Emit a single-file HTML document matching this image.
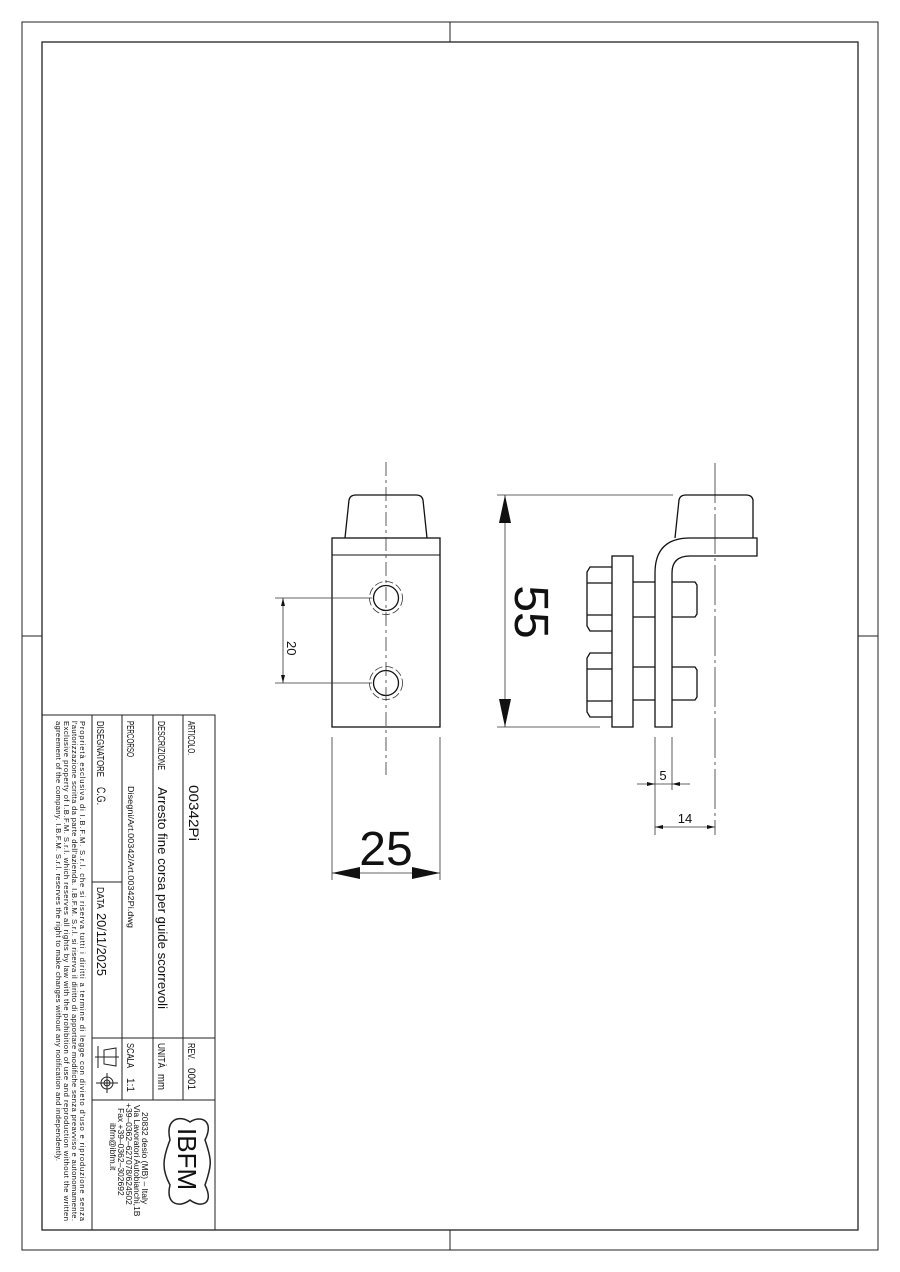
<!DOCTYPE html>
<html><head><meta charset="utf-8"><style>html,body{margin:0;padding:0;background:#fff}svg{display:block}text{font-family:"Liberation Sans",sans-serif;fill:#111}</style></head><body>
<svg width="900" height="1272" viewBox="0 0 900 1272" xmlns="http://www.w3.org/2000/svg">
<g fill="none" stroke="#222" stroke-width="1">
<rect x="22" y="22" width="856" height="1228"/>
<rect x="42" y="42" width="816" height="1188" stroke-width="1.3"/>
<line x1="450" y1="22" x2="450" y2="42"/><line x1="450" y1="1230" x2="450" y2="1250"/>
<line x1="22" y1="636" x2="42" y2="636"/><line x1="858" y1="636" x2="878" y2="636"/>
<rect x="42" y="715" width="173" height="515"/>
<line x1="92" y1="715" x2="92" y2="1230"/>
<line x1="122" y1="715" x2="122" y2="1100"/>
<line x1="153" y1="715" x2="153" y2="1100"/>
<line x1="183" y1="715" x2="183" y2="1100"/>
<line x1="92" y1="882" x2="122" y2="882"/>
<line x1="92" y1="1038" x2="215" y2="1038"/>
<line x1="92" y1="1100" x2="215" y2="1100"/>
<path d="M98 1046 L98 1068 M104 1050 L104 1064 L116 1066 L116 1048 Z M95 1057 L119 1057"/>
<circle cx="107" cy="1083" r="6"/><circle cx="107" cy="1083" r="3"/>
<line x1="96" y1="1083" x2="118" y2="1083"/><line x1="107" y1="1073" x2="107" y2="1093"/>
<path d="M205 1140 C215 1120 200 1115 190 1122 C180 1115 165 1118 170 1140 C162 1160 162 1170 170 1185 C165 1205 180 1208 190 1200 C200 1208 215 1205 205 1185 C212 1165 212 1160 205 1140 Z" stroke-width="1.5"/>
</g>
<g font-size="11">
<text transform="translate(188,721) rotate(90)" font-size="10" textLength="34" lengthAdjust="spacingAndGlyphs">ARTICOLO.</text>
<text transform="translate(189,785) rotate(90)" font-size="14" textLength="56" lengthAdjust="spacingAndGlyphs">00342Pi</text>
<text transform="translate(158,721) rotate(90)" font-size="10" textLength="49" lengthAdjust="spacingAndGlyphs">DESCRIZIONE</text>
<text transform="translate(158,787) rotate(90)" font-size="13" textLength="222" lengthAdjust="spacingAndGlyphs">Arresto fine corsa per guide scorrevoli</text>
<text transform="translate(127,721) rotate(90)" font-size="10" textLength="36" lengthAdjust="spacingAndGlyphs">PERCORSO</text>
<text transform="translate(128,786) rotate(90)" font-size="8" textLength="142" lengthAdjust="spacingAndGlyphs">Disegni/Art.00342/Art.00342Pi.dwg</text>
<text transform="translate(97,721) rotate(90)" font-size="10" textLength="56" lengthAdjust="spacingAndGlyphs">DISEGNATORE</text>
<text transform="translate(97,787) rotate(90)" font-size="12" textLength="18" lengthAdjust="spacingAndGlyphs">C.G.</text>
<text transform="translate(97,887) rotate(90)" font-size="10" textLength="22" lengthAdjust="spacingAndGlyphs">DATA</text>
<text transform="translate(97,913) rotate(90)" font-size="13" textLength="63" lengthAdjust="spacingAndGlyphs">20/11/2025</text>
<text transform="translate(188,1043) rotate(90)" font-size="10" textLength="17" lengthAdjust="spacingAndGlyphs">REV.</text>
<text transform="translate(188,1068) rotate(90)" font-size="11" textLength="22" lengthAdjust="spacingAndGlyphs">0001</text>
<text transform="translate(158,1043) rotate(90)" font-size="10" textLength="25" lengthAdjust="spacingAndGlyphs">UNITÀ</text>
<text transform="translate(158,1074) rotate(90)" font-size="11" textLength="16" lengthAdjust="spacingAndGlyphs">mm</text>
<text transform="translate(127,1043) rotate(90)" font-size="10" textLength="25" lengthAdjust="spacingAndGlyphs">SCALA</text>
<text transform="translate(127,1078) rotate(90)" font-size="11" textLength="14" lengthAdjust="spacingAndGlyphs">1:1</text>
<text transform="translate(178,1128) rotate(90)" font-size="26" font-family="Liberation Serif">IBFM</text>
<text transform="translate(142,1112) rotate(90)" font-size="8.5">20832 desio (MB) – Italy</text>
<text transform="translate(134,1105) rotate(90)" font-size="8.5">Via Lavoratori Autobianchi,1B</text>
<text transform="translate(126,1103) rotate(90)" font-size="8.5">+39–0362–627078/624502</text>
<text transform="translate(118,1108) rotate(90)" font-size="8.5">Fax +39–0362–302692</text>
<text transform="translate(110,1123) rotate(90)" font-size="8.5">ibfm@ibfm.it</text>
<g font-size="7.6">
<text transform="translate(80,721) rotate(90)" textLength="500">Proprietà esclusiva di I.B.F.M. S.r.l. che si riserva tutti i diritti a termine di legge con divieto d'uso e riproduzione senza</text>
<text transform="translate(72,721) rotate(90)" textLength="500">l'autorizzazione scritta da parte dell'azienda. I.B.F.M. S.r.l. si riserva il diritto di apportare modifiche senza preavviso e autonomamente.</text>
<text transform="translate(64,721) rotate(90)" textLength="500">Exclusive property of I.B.F.M. S.r.l. which reserves all rights by law with the prohibition of use and reproduction without the written</text>
<text transform="translate(56,721) rotate(90)" textLength="440">agreement of the company. I.B.F.M. S.r.l. reserves the right to make changes without any notification and independently.</text>
</g>
</g>
<g fill="none" stroke="#111" stroke-width="1.3">
<path d="M345 538 L349 500 Q350 495 356 495 L416 495 Q422 495 423 500 L427 538"/>
<rect x="332" y="538" width="108" height="189"/>
<line x1="332" y1="555" x2="440" y2="555" stroke-width="1"/>
<circle cx="386" cy="598" r="12.5"/><circle cx="386" cy="683" r="12.5"/>
</g>
<g fill="none" stroke="#333" stroke-width="0.8">
<circle cx="386" cy="598" r="16.5" stroke-dasharray="8 3"/><circle cx="386" cy="683" r="16.5" stroke-dasharray="8 3"/>
<line x1="386" y1="462" x2="386" y2="775" stroke-dasharray="14 4 3 4"/>
<line x1="275" y1="598" x2="372" y2="598"/><line x1="275" y1="683" x2="372" y2="683"/>
<line x1="283" y1="598" x2="283" y2="683"/>
<line x1="332" y1="737" x2="332" y2="880"/><line x1="440" y1="737" x2="440" y2="880"/>
<line x1="332" y1="873" x2="440" y2="873"/>
<line x1="497" y1="495" x2="673" y2="495"/><line x1="497" y1="727" x2="600" y2="727"/>
<line x1="505" y1="495" x2="505" y2="727"/>
<line x1="655" y1="737" x2="655" y2="835"/><line x1="672" y1="737" x2="672" y2="790"/>
<line x1="637" y1="784" x2="690" y2="784"/>
<line x1="655" y1="827" x2="715" y2="827"/>
<line x1="715" y1="463" x2="715" y2="835" stroke-dasharray="40 4 3 4"/>
</g>
<g fill="#111">
<path d="M283 598 l-2 8 h4 Z M283 683 l-2 -8 h4 Z"/>
<path d="M332 873 l28 -6 v12 Z M440 873 l-28 -6 v12 Z"/>
<path d="M505 495 l-6 28 h12 Z M505 727 l-6 -28 h12 Z"/>
<path d="M655 784 l-8 -2 v4 Z M672 784 l8 -2 v4 Z M655 827 l8 -2 v4 Z M715 827 l-8 -2 v4 Z"/>
</g>
<text transform="translate(287,641) rotate(90)" font-size="13">20</text>
<text x="386" y="865" font-size="48" text-anchor="middle">25</text>
<text transform="translate(515,612) rotate(90)" font-size="48" text-anchor="middle">55</text>
<text x="663" y="780" font-size="13" text-anchor="middle">5</text>
<text x="685" y="823" font-size="13" text-anchor="middle">14</text>
<g fill="none" stroke="#111" stroke-width="1.3">
<path d="M675 538 L679 500 Q680 495 686 495 L746 495 Q752 495 753 500 L753 538"/>
<path d="M655 727 L655 573 Q655 538 690 538 L757 538 L757 556 L690 556 Q672 556 672 573 L672 727 Z"/>
<rect x="612" y="556" width="21" height="171"/>
<path d="M612 567 L590 567 L587 572 L587 626 L590 631 L612 631 M587 583 L612 583 M587 615 L612 615"/>
<path d="M612 653 L590 653 L587 658 L587 712 L590 717 L612 717 M587 669 L612 669 M587 701 L612 701"/>
<path d="M633 582 L655 582 M633 617 L655 617 M672 582 L695 582 L697 585 L697 614 L695 617 L672 617"/>
<path d="M633 667 L655 667 M633 700 L655 700 M672 667 L695 667 L697 670 L697 697 L695 700 L672 700"/>
</g>
</svg>
</body></html>
